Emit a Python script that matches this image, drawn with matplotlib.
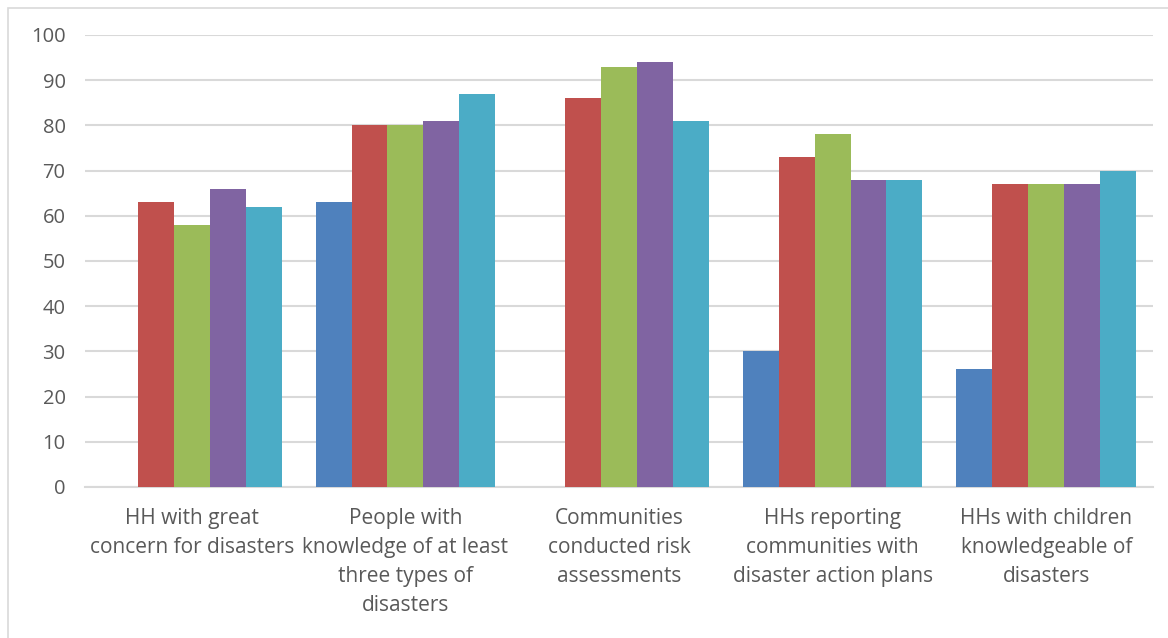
import numpy as np
import matplotlib.pyplot as plt
from matplotlib.patches import Rectangle

plt.rcParams['font.family'] = ['Open Sans', 'DejaVu Sans']

categories = [
    "HH with great\nconcern for disasters",
    "People with\nknowledge of at least\nthree types of\ndisasters",
    "Communities\nconducted risk\nassessments",
    "HHs reporting\ncommunities with\ndisaster action plans",
    "HHs with children\nknowledgeable of\ndisasters",
]
series_1 = [0, 63, 0, 30, 26]
series_2 = [63, 80, 86, 73, 67]
series_3 = [58, 80, 93, 78, 67]
series_4 = [66, 81, 94, 68, 67]
series_5 = [62, 87, 81, 68, 70]
colors = ["#4F81BD", "#C0504D", "#9BBB59", "#8064A2", "#4BACC6"]

fig = plt.figure(figsize=(11.68, 6.38), dpi=100)
ax = fig.add_axes([85 / 1168, 1 - 487 / 638, 1068 / 1168, 452 / 638])

x = np.arange(len(categories))
w = 0.168
all_series = [series_1, series_2, series_3, series_4, series_5]
for i, (vals, c) in enumerate(zip(all_series, colors)):
    ax.bar(x + (i - 2) * w, vals, width=w, color=c, zorder=3)

ax.set_xlim(-0.5, len(categories) - 0.5)
ax.set_ylim(0, 100)
ax.set_yticks(range(0, 101, 10))
ax.yaxis.grid(True, color="#D9D9D9", linewidth=1.5, zorder=0)
ax.set_axisbelow(True)
for s in ["top", "right", "left"]:
    ax.spines[s].set_visible(False)
ax.spines["bottom"].set_color("#D9D9D9")
ax.spines["bottom"].set_linewidth(1.5)
ax.tick_params(axis="y", length=0, pad=14, labelsize=14.5, labelcolor="#595959")
ax.tick_params(axis="x", length=0, pad=15, labelsize=15, labelcolor="#595959")
ax.set_xticks(x)
ax.set_xticklabels(categories, linespacing=1.5, va="top")

# chart frame
fig.patches.append(Rectangle((8 / 1168, -0.05), 1.2, 1 - 8 / 638 + 0.05,
                             transform=fig.transFigure, fill=False,
                             edgecolor="#D9D9D9", linewidth=1.2))

fig.savefig("out.png", dpi=100)
